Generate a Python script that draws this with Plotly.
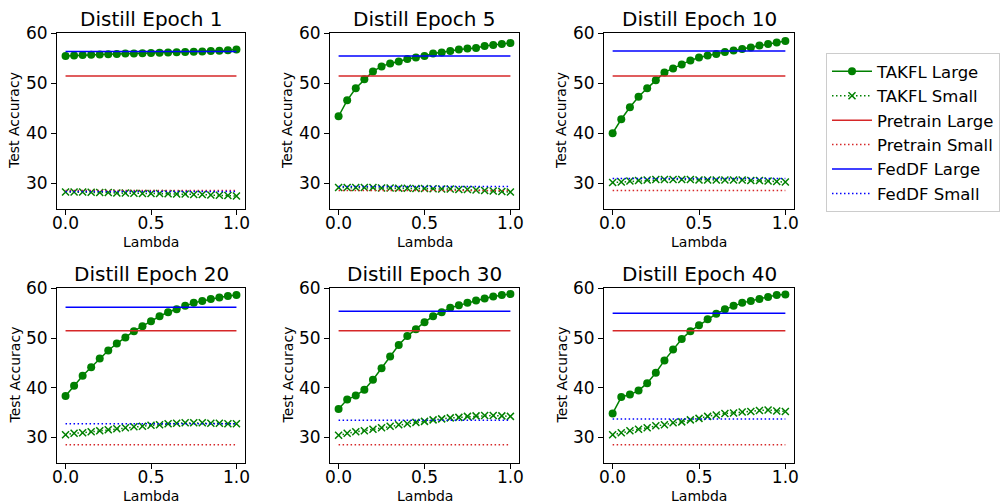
import plotly.graph_objects as go

lambdas = [round(i * 0.05, 2) for i in range(21)]
titles = ["Distill Epoch 1", "Distill Epoch 5", "Distill Epoch 10",
          "Distill Epoch 20", "Distill Epoch 30", "Distill Epoch 40"]

takfl_large = [
    [55.5, 55.6, 55.7, 55.75, 55.8, 55.85, 55.9, 56.0, 56.0, 56.05, 56.1, 56.15, 56.2, 56.25, 56.3, 56.35, 56.4, 56.5, 56.55, 56.65, 56.8],
    [43.4, 46.6, 49.0, 50.8, 52.4, 53.4, 54.0, 54.4, 54.9, 55.2, 55.5, 56.0, 56.2, 56.5, 56.8, 57.0, 57.1, 57.5, 57.7, 57.9, 58.1],
    [40.0, 42.8, 45.2, 47.3, 49.0, 50.6, 52.2, 53.0, 53.8, 54.6, 55.2, 55.6, 55.9, 56.3, 56.6, 56.9, 57.2, 57.6, 57.9, 58.2, 58.5],
    [38.3, 40.4, 42.4, 44.1, 45.9, 47.5, 48.9, 50.1, 51.4, 52.4, 53.4, 54.4, 55.2, 55.8, 56.5, 57.1, 57.5, 57.9, 58.2, 58.5, 58.7],
    [35.7, 37.6, 38.4, 39.6, 41.6, 43.9, 46.3, 48.6, 50.4, 51.8, 53.2, 54.4, 55.2, 56.1, 56.6, 57.1, 57.6, 58.0, 58.4, 58.7, 58.9],
    [34.8, 38.1, 38.6, 39.4, 40.9, 43.0, 45.5, 47.7, 49.8, 51.4, 52.6, 53.8, 54.9, 55.8, 56.5, 57.1, 57.5, 57.9, 58.3, 58.7, 58.8],
]
takfl_small = [
    [28.2, 28.2, 28.2, 28.15, 28.1, 28.1, 28.0, 28.0, 27.95, 27.9, 27.9, 27.9, 27.85, 27.8, 27.8, 27.7, 27.7, 27.6, 27.55, 27.5, 27.4],
    [29.1, 29.1, 29.1, 29.1, 29.1, 29.0, 29.0, 28.95, 28.95, 28.9, 28.9, 28.85, 28.8, 28.8, 28.7, 28.7, 28.6, 28.5, 28.4, 28.3, 28.2],
    [30.1, 30.2, 30.4, 30.5, 30.6, 30.7, 30.7, 30.7, 30.7, 30.7, 30.6, 30.6, 30.6, 30.6, 30.6, 30.6, 30.5, 30.5, 30.4, 30.3, 30.2],
    [30.5, 30.8, 30.9, 31.1, 31.3, 31.5, 31.7, 31.9, 32.1, 32.2, 32.4, 32.5, 32.7, 32.8, 32.9, 32.9, 32.9, 32.8, 32.8, 32.7, 32.7],
    [30.4, 30.8, 31.1, 31.3, 31.6, 31.9, 32.2, 32.5, 32.7, 33.0, 33.2, 33.5, 33.7, 33.9, 34.0, 34.2, 34.3, 34.4, 34.4, 34.3, 34.2],
    [30.5, 30.9, 31.3, 31.6, 31.9, 32.3, 32.5, 32.9, 33.1, 33.5, 33.8, 34.2, 34.5, 34.8, 34.9, 35.1, 35.2, 35.4, 35.5, 35.3, 35.2],
]
pretrain_large = [51.5, 51.5, 51.5, 51.5, 51.5, 51.5]
pretrain_small = [28.5, 28.5, 28.5, 28.5, 28.5, 28.5]
feddf_large = [56.4, 55.5, 56.5, 56.2, 55.4, 55.0]
feddf_small = [28.3, 29.3, 30.9, 32.7, 33.4, 33.7]

W, H = 1003, 503
xdoms_px = [(57, 245), (330, 519), (604, 794)]
ydoms_px = [(33, 209), (288, 463)]

GREEN = "#008000"
RED = "#d62728"
BLUE = "#0000ff"
FONT = "DejaVu Sans"
DOT = "1.5px,2.5px"

fig = go.Figure()
annotations = []
for k in range(6):
    r, c = divmod(k, 3)
    ax = "" if k == 0 else str(k + 1)
    xa, ya = "x" + ax, "y" + ax
    show = (k == 0)
    n = len(lambdas)
    fig.add_trace(go.Scatter(x=lambdas, y=takfl_large[k], mode="lines+markers", name="TAKFL Large",
                             line=dict(color=GREEN, width=1.5), marker=dict(color=GREEN, size=8, symbol="circle"),
                             xaxis=xa, yaxis=ya, showlegend=show, legendrank=1))
    fig.add_trace(go.Scatter(x=lambdas, y=takfl_small[k], mode="lines+markers", name="TAKFL Small",
                             line=dict(color=GREEN, width=1.5, dash=DOT),
                             marker=dict(color=GREEN, size=7, symbol="x-thin-open", line=dict(color=GREEN, width=1.5)),
                             xaxis=xa, yaxis=ya, showlegend=show, legendrank=2))
    fig.add_trace(go.Scatter(x=lambdas, y=[pretrain_large[k]] * n, mode="lines", name="Pretrain Large",
                             line=dict(color=RED, width=1.5), xaxis=xa, yaxis=ya, showlegend=show, legendrank=3))
    fig.add_trace(go.Scatter(x=lambdas, y=[pretrain_small[k]] * n, mode="lines", name="Pretrain Small",
                             line=dict(color=RED, width=1.5, dash=DOT), xaxis=xa, yaxis=ya, showlegend=show, legendrank=4))
    fig.add_trace(go.Scatter(x=lambdas, y=[feddf_large[k]] * n, mode="lines", name="FedDF Large",
                             line=dict(color=BLUE, width=1.5), xaxis=xa, yaxis=ya, showlegend=show, legendrank=5))
    fig.add_trace(go.Scatter(x=lambdas, y=[feddf_small[k]] * n, mode="lines", name="FedDF Small",
                             line=dict(color=BLUE, width=1.5, dash=DOT), xaxis=xa, yaxis=ya, showlegend=show, legendrank=6))

    x0, x1 = xdoms_px[c]
    y0, y1 = ydoms_px[r]
    xdom = [x0 / W, x1 / W]
    ydom = [1 - y1 / H, 1 - y0 / H]
    axis_common = dict(showline=True, linecolor="black", linewidth=1, mirror=True, ticks="outside",
                       ticklen=5, tickwidth=1, tickcolor="black", showgrid=False, zeroline=False,
                       automargin=False,
                       tickfont=dict(family=FONT, size=17, color="black"))
    fig.update_layout(**{
        "xaxis" + ax: dict(domain=xdom, range=[-0.05, 1.05], tickvals=[0.0, 0.5, 1.0],
                           ticktext=["0.0", "0.5", "1.0"], anchor=ya, ticklabelstandoff=-6, **axis_common),
        "yaxis" + ax: dict(domain=ydom, range=[24.8, 60.1], tickvals=[30, 40, 50, 60], anchor=xa, **axis_common),
    })
    cx = (x0 + x1) / 2 / W
    annotations.append(dict(text=titles[k], x=cx, y=1 - y0 / H, xref="paper", yref="paper",
                            xanchor="center", yanchor="bottom", yshift=0, showarrow=False,
                            font=dict(family=FONT, size=20, color="black")))
    annotations.append(dict(text="Lambda", x=cx, y=1 - (y1 + 23) / H, xref="paper", yref="paper",
                            xanchor="center", yanchor="top", showarrow=False,
                            font=dict(family=FONT, size=14, color="black")))
    annotations.append(dict(text="Test Accuracy", x=(x0 - 33) / W, y=(ydom[0] + ydom[1]) / 2, xref="paper", yref="paper",
                            xanchor="right", yanchor="middle", textangle=-90, showarrow=False,
                            font=dict(family=FONT, size=14, color="black")))

fig.update_layout(
    width=W, height=H, margin=dict(l=0, r=0, t=0, b=0, autoexpand=False),
    plot_bgcolor="white", paper_bgcolor="white",
    annotations=annotations,
    legend=dict(x=826 / W, y=1 - 53 / H, xanchor="left", yanchor="top",
                bordercolor="#cccccc", borderwidth=1, bgcolor="white",
                font=dict(family=FONT, size=16.5, color="black"), tracegroupgap=0,
                itemwidth=40),
)
fig.write_html("out.html", config={"displayModeBar": False})

with open("out.html", "r", encoding="utf-8") as f:
    html = f.read()
css = ("<style>html,body{margin:0;padding:0;overflow:hidden;}"
       ".plotly-graph-div{position:absolute !important;top:0;left:0;}</style>")
html = html.replace("<head>", "<head>" + css, 1)
with open("out.html", "w", encoding="utf-8") as f:
    f.write(html)
